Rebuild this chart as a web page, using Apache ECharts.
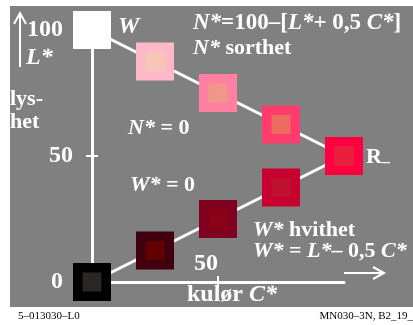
<!DOCTYPE html>
<html><head><meta charset="utf-8">
<script src="https://cdn.jsdelivr.net/npm/echarts@6/dist/echarts.min.js"></script>
<style>html,body{margin:0;padding:0;background:#fff}#c{width:413px;height:325px}</style>
</head><body><div id="c"></div>
<script>
const chroma = [0, 25, 50, 75, 100];
const lightTop = [100, 87.5, 75, 62.5, 50];
const lightBottom = [0, 12.5, 25, 37.5, 50];
const outerTop = ['#ffffff', '#ffb8c8', '#ff80a0', '#ff3c6c', '#ff0040'];
const innerTop = ['#ffffff', '#f6c6b8', '#f09888', '#ec6c60', '#e8203c'];
const outerBottom = ['#000000', '#400010', '#800020', '#c80030', '#ff0040'];
const innerBottom = ['#2a2626', '#600000', '#8c0018', '#c01030', '#e8203c'];
const yTickLabels = [0, 50, 100];
const yTicks = [50];
const xTickLabels = [50];

const F = 'Liberation Serif';
const chart = echarts.init(document.getElementById('c'), null, {renderer: 'canvas'});

function pts(ls) { return chroma.map((c, i) => [c, ls[i]]); }
function colored(arr, colors) { return arr.map((p, i) => ({value: p, itemStyle: {color: colors[i], opacity: 1}})); }

const topPts = pts(lightTop), botPts = pts(lightBottom);

function txt(x, y, rich, parts, size, align) {
  return {type: 'text', x: x, y: y, z: 50,
    style: {text: parts, fill: '#fff', font: 'bold ' + size + 'px "' + F + '"',
      textVerticalAlign: 'middle', textAlign: align || 'left', rich: rich}};
}
const R = (size) => ({
  i: {fontFamily: F, fontWeight: 'bold', fontStyle: 'italic', fontSize: size, color: '#fff'},
  b: {fontFamily: F, fontWeight: 'bold', fontSize: size, color: '#fff'}
});

const option = {
  animation: false,
  backgroundColor: '#ffffff',
  grid: {left: 92, top: 30, width: 252, height: 252, containLabel: false},
  xAxis: [{
    type: 'value', min: 0, max: 100, position: 'bottom',
    axisLine: {show: true, lineStyle: {color: '#fff', width: 3}},
    axisTick: {show: true, customValues: xTickLabels, length: 6, lineStyle: {color: '#fff', width: 2}},
    axisLabel: {show: true, customValues: xTickLabels, inside: true, margin: 6, align: 'right',
      color: '#fff', fontFamily: F, fontWeight: 'bold', fontSize: 24},
    splitLine: {show: false}
  }, {
    type: 'value', min: 0, max: 100, position: 'bottom', offset: 0,
    axisLine: {show: false},
    axisTick: {show: true, inside: true, customValues: xTickLabels, length: 6, lineStyle: {color: '#fff', width: 2}},
    axisLabel: {show: false}, splitLine: {show: false}
  }],
  yAxis: [{
    type: 'value', min: 0, max: 100, position: 'left',
    axisLine: {show: true, lineStyle: {color: '#fff', width: 3}},
    axisTick: {show: true, customValues: yTicks, length: 6, lineStyle: {color: '#fff', width: 2}},
    axisLabel: {show: true, customValues: yTickLabels, margin: 19,
      formatter: v => v === 50 ? '{m|50}' : '{o|' + v + '}',
      rich: {
        m: {color: '#fff', fontFamily: F, fontWeight: 'bold', fontSize: 24},
        o: {color: '#fff', fontFamily: F, fontWeight: 'bold', fontSize: 24, padding: [0, 10, 0, 0]}
      }},
    splitLine: {show: false}
  }, {
    type: 'value', min: 0, max: 100, position: 'left', offset: 0,
    axisLine: {show: false},
    axisTick: {show: true, inside: true, customValues: yTicks, length: 6, lineStyle: {color: '#fff', width: 2}},
    axisLabel: {show: false}, splitLine: {show: false}
  }],
  series: [
    {type: 'line', data: topPts, symbol: 'none', lineStyle: {color: '#fff', width: 3}, z: 3, silent: true},
    {type: 'line', data: botPts, symbol: 'none', lineStyle: {color: '#fff', width: 3}, z: 3, silent: true},
    {type: 'scatter', data: colored(topPts, outerTop).concat(colored(botPts, outerBottom)),
      symbol: 'rect', symbolSize: 38, z: 4, itemStyle: {opacity: 1}, silent: true},
    {type: 'scatter', data: colored(topPts, innerTop).concat(colored(botPts, innerBottom)),
      symbol: 'rect', symbolSize: 19, z: 5, itemStyle: {opacity: 1}, silent: true}
  ],
  graphic: [
    {type: 'rect', z: -100, shape: {x: 10, y: 6, width: 403, height: 301}, style: {fill: '#808080'}},
    {type: 'polyline', z: 50, shape: {points: [[20, 67], [20, 14]]}, style: {stroke: '#fff', lineWidth: 2}},
    {type: 'polyline', z: 50, shape: {points: [[14, 24], [20, 13], [26, 24]]}, style: {stroke: '#fff', lineWidth: 2, fill: null}},
    {type: 'polyline', z: 50, shape: {points: [[344, 273], [382, 273]]}, style: {stroke: '#fff', lineWidth: 2}},
    {type: 'polyline', z: 50, shape: {points: [[373, 267], [384, 273], [373, 279]]}, style: {stroke: '#fff', lineWidth: 2, fill: null}},
    txt(26, 58, R(24), '{i|L*}', 24),
    txt(10, 99, R(22), '{b|lys-}', 22),
    txt(10, 122, R(22), '{b|het}', 22),
    txt(118, 27, R(24), '{i|W}', 24),
    txt(193, 23, R(23), '{i|N*}{b|=100–[}{i|L*}{b|+ 0,5}{i| C*}{b|]}', 23),
    txt(193, 48, R(22), '{i|N*}{b| sorthet}', 22),
    txt(128, 128, R(22), '{i|N*}{b| = 0}', 22),
    txt(130, 185, R(22), '{i|W*}{b| = 0}', 22),
    txt(366, 157, {b: {fontFamily: F, fontWeight: 'bold', fontSize: 22, color: '#fff'},
      s: {fontFamily: F, fontWeight: 'bold', fontSize: 16, color: '#fff', padding: [12, 0, 0, 0]}}, '{b|R}{s|–}', 22),
    txt(253, 230, R(22), '{i|W*}{b| hvithet}', 22),
    txt(253, 251, R(22), '{i|W*}{b| = }{i|L*}{b|– 0,5}{i| C*}', 22),
    txt(187, 295, R(24), '{b|kulør }{i|C*}', 24),
    {type: 'text', x: 18, y: 316, z: 50, style: {text: '5–013030–L0', fill: '#000', font: '11px "' + F + '"', textVerticalAlign: 'middle'}},
    {type: 'text', x: 413, y: 316, z: 50, style: {text: 'MN030–3N, B2_19_', fill: '#000', font: '11px "' + F + '"', textVerticalAlign: 'middle', textAlign: 'right'}}
  ]
};
chart.setOption(option);
</script></body></html>
